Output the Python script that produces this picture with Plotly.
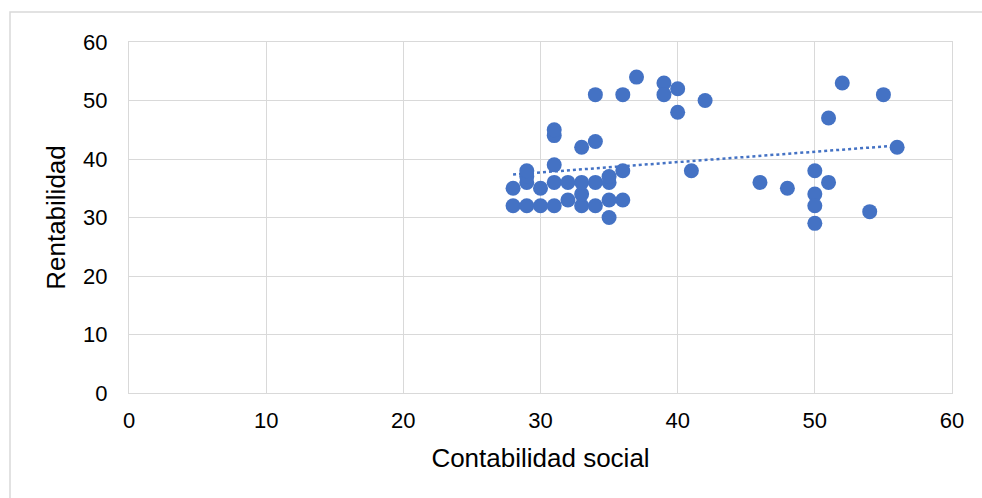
import numpy as np
import plotly.graph_objects as go

contabilidad_social = [28, 28, 29, 29, 29, 29, 30, 30, 31, 31, 31, 31, 31,
                       32, 32, 33, 33, 33, 33, 34, 34, 34, 34,
                       35, 35, 35, 35, 36, 36, 36, 37, 39, 39, 40, 40, 41, 42,
                       46, 48, 50, 50, 50, 50, 51, 51, 52, 54, 55, 56]
rentabilidad = [32, 35, 32, 36, 37, 38, 32, 35, 32, 36, 39, 44, 45,
                33, 36, 32, 34, 36, 42, 32, 36, 43, 51,
                30, 33, 36, 37, 33, 38, 51, 54, 53, 51, 52, 48, 38, 50,
                36, 35, 38, 34, 32, 29, 36, 47, 53, 31, 51, 42]

x_ticks = [0, 10, 20, 30, 40, 50, 60]
y_ticks = [0, 10, 20, 30, 40, 50, 60]

blue = "#4472C4"
grid = "#D9D9D9"

xs = np.array(contabilidad_social, dtype=float)
ys = np.array(rentabilidad, dtype=float)
m, b = np.polyfit(xs, ys, 1)
tx = np.array([xs.min(), xs.max()])
ty = m * tx + b

fig = go.Figure()
fig.add_trace(go.Scatter(x=tx, y=ty, mode="lines",
                         line=dict(color=blue, width=2.5, dash="dot"),
                         hoverinfo="skip", showlegend=False))
fig.add_trace(go.Scatter(x=contabilidad_social, y=rentabilidad, mode="markers",
                         marker=dict(color=blue, size=15, line=dict(width=0)),
                         showlegend=False))

font = "Liberation Sans, Arial, sans-serif"
fig.update_layout(
    width=982, height=498,
    margin=dict(l=129, r=30, t=42, b=105),
    paper_bgcolor="white", plot_bgcolor="white",
    font=dict(family=font, color="#000000", size=22),
    shapes=[dict(type="rect", xref="paper", yref="paper",
                 x0=-0.1446, x1=1.1, y0=-0.4, y1=1.0855,
                 line=dict(color=grid, width=1.5), layer="below")],
)
fig.update_xaxes(range=[0, 60], tickvals=x_ticks, showgrid=True, gridcolor=grid,
                 gridwidth=1, zeroline=False, showline=True, linecolor=grid,
                 mirror=True, ticks="", ticklabelstandoff=8,
                 title=dict(text="Contabilidad social", font=dict(size=26), standoff=16))
fig.update_yaxes(range=[0, 60], tickvals=y_ticks, showgrid=True, gridcolor=grid,
                 gridwidth=1, zeroline=False, showline=True, linecolor=grid,
                 mirror=True, ticks="", ticklabelstandoff=16,
                 title=dict(text="Rentabilidad", font=dict(size=26), standoff=10))

fig.write_html("out.html", config={"displayModeBar": False},
               post_script="document.body.style.margin='0';document.body.style.overflow='hidden';")
